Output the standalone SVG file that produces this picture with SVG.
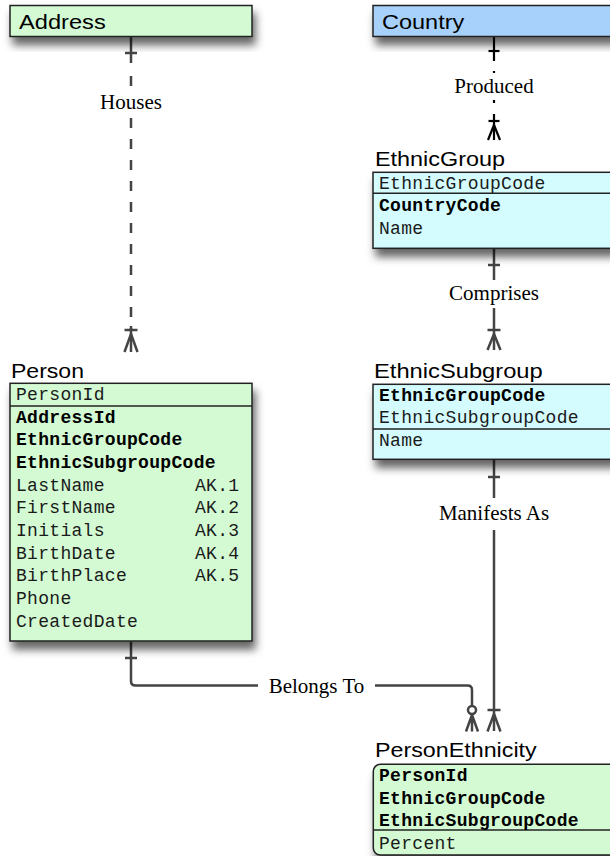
<svg xmlns="http://www.w3.org/2000/svg" width="610" height="856" viewBox="0 0 610 856">
<defs>
<filter id="sh" x="-10%" y="-10%" width="130%" height="160%">
<feDropShadow dx="3" dy="8" stdDeviation="4.5" flood-color="#000" flood-opacity="0.6"/>
</filter>
</defs>
<style>
.box{stroke:#222;stroke-width:1.5}
.g{fill:#d4fad4}
.c{fill:#d4fcff}
.b{fill:#a7d1fa}
.div{stroke:#222;stroke-width:1.5}
.title{font-family:"Liberation Sans",Arial,sans-serif;font-size:20px;fill:#000}
.row{font-family:"Liberation Mono","Courier New",monospace;font-size:18px;letter-spacing:0.3px;fill:#1a1a1a}
.bold{font-weight:bold;fill:#000}
.lbl{font-family:"Liberation Serif","Times New Roman",serif;font-size:21px;fill:#000;text-anchor:middle}
.ln{stroke:#444;stroke-width:2.5;fill:none}
.lk{stroke:#000;stroke-width:2.2;fill:none}
</style>

<g id="connectors">
  <g id="c-houses">
    <line class="ln" x1="131" y1="37" x2="131" y2="63"/>
    <line class="ln" x1="125" y1="53" x2="137" y2="53"/>
    <line class="ln" x1="131" y1="76" x2="131" y2="86"/>
    <line class="ln" x1="131" y1="118" x2="131" y2="330" stroke-dasharray="10 11"/>
    <line class="ln" x1="131" y1="326" x2="131" y2="352"/>
    <line class="ln" x1="124.5" y1="330" x2="137.5" y2="330"/>
    <path class="ln" d="M131 334 L124.5 352 M131 334 L137.5 352"/>
    <text class="lbl" x="131" y="109">Houses</text>
  </g>
  <g id="c-produced">
    <line class="lk" x1="494" y1="37" x2="494" y2="61"/>
    <line class="lk" x1="488.5" y1="51" x2="499.5" y2="51"/>
    <line class="lk" x1="494" y1="71" x2="494" y2="73"/>
    <line class="lk" x1="494" y1="100" x2="494" y2="103"/>
    <line class="lk" x1="494" y1="114" x2="494" y2="140"/>
    <line class="lk" x1="488.5" y1="121" x2="499.5" y2="121"/>
    <path class="lk" d="M494 125 L488 140 M494 125 L500 140"/>
    <text class="lbl" x="494" y="92.7">Produced</text>
  </g>
  <g id="c-comprises">
    <line class="ln" x1="494" y1="249" x2="494" y2="280"/>
    <line class="ln" x1="488" y1="265" x2="500" y2="265"/>
    <line class="ln" x1="494" y1="308" x2="494" y2="350"/>
    <line class="ln" x1="487.5" y1="330" x2="500.5" y2="330"/>
    <path class="ln" d="M494 334 L487.5 350 M494 334 L500.5 350"/>
    <text class="lbl" x="494" y="300">Comprises</text>
  </g>
  <g id="c-manifests">
    <line class="ln" x1="494" y1="460" x2="494" y2="498"/>
    <line class="ln" x1="488" y1="477" x2="500" y2="477"/>
    <line class="ln" x1="494" y1="530" x2="494" y2="731"/>
    <line class="ln" x1="487.5" y1="710" x2="500.5" y2="710"/>
    <path class="ln" d="M494 714 L487.5 731.5 M494 714 L500.5 731.5"/>
    <text class="lbl" x="494" y="520">Manifests As</text>
  </g>
  <g id="c-belongs">
    <path class="ln" d="M131 642 L131 681 Q131 685.5 135.5 685.5 L258 685.5"/>
    <line class="ln" x1="125" y1="658" x2="137" y2="658"/>
    <path class="ln" d="M375 685.5 L467.5 685.5 Q472 685.5 472 690 L472 706"/>
    <circle class="ln" cx="472" cy="710" r="4"/>
    <path class="ln" d="M472 714 L472 731.5 M472 715 L466 731.5 M472 715 L478 731.5"/>
    <text class="lbl" x="316.5" y="693">Belongs To</text>
  </g>
</g>

<g id="Address">
  <rect class="box g" x="10" y="5.5" width="242" height="31" filter="url(#sh)"/>
  <text class="title" x="19" y="29.3" textLength="86.7" lengthAdjust="spacingAndGlyphs">Address</text>
</g>

<g id="Country">
  <rect class="box b" x="373" y="5.5" width="242" height="31" filter="url(#sh)"/>
  <text class="title" x="382" y="29.3" textLength="82.3" lengthAdjust="spacingAndGlyphs">Country</text>
</g>

<g id="EthnicGroup">
  <text class="title" x="375" y="165.7" textLength="130" lengthAdjust="spacingAndGlyphs">EthnicGroup</text>
  <rect class="box c" x="373" y="172.3" width="242" height="76" filter="url(#sh)"/>
  <line class="div" x1="373" y1="193.3" x2="615" y2="193.3"/>
  <text class="row" x="379" y="188.5">EthnicGroupCode</text>
  <text class="row bold" x="379" y="211">CountryCode</text>
  <text class="row" x="379" y="233.5">Name</text>
</g>

<g id="EthnicSubgroup">
  <text class="title" x="374" y="377.7" textLength="168.7" lengthAdjust="spacingAndGlyphs">EthnicSubgroup</text>
  <rect class="box c" x="373" y="384.3" width="242" height="75" filter="url(#sh)"/>
  <line class="div" x1="373" y1="429" x2="615" y2="429"/>
  <text class="row bold" x="379" y="400.7">EthnicGroupCode</text>
  <text class="row" x="379" y="423.3">EthnicSubgroupCode</text>
  <text class="row" x="379" y="446">Name</text>
</g>

<g id="Person">
  <text class="title" x="11" y="377.7" textLength="73" lengthAdjust="spacingAndGlyphs">Person</text>
  <rect class="box g" x="10" y="383.3" width="242" height="257.7" filter="url(#sh)"/>
  <line class="div" x1="10" y1="406" x2="252" y2="406"/>
  <text class="row" x="16" y="400">PersonId</text>
  <text class="row bold" x="16" y="422.5">AddressId</text>
  <text class="row bold" x="16" y="445.2">EthnicGroupCode</text>
  <text class="row bold" x="16" y="467.9">EthnicSubgroupCode</text>
  <text class="row" x="16" y="490.6">LastName</text>
  <text class="row" x="16" y="513.3">FirstName</text>
  <text class="row" x="16" y="536">Initials</text>
  <text class="row" x="16" y="558.7">BirthDate</text>
  <text class="row" x="16" y="581.4">BirthPlace</text>
  <text class="row" x="16" y="604.1">Phone</text>
  <text class="row" x="16" y="626.8">CreatedDate</text>
  <text class="row" x="195" y="490.6">AK.1</text>
  <text class="row" x="195" y="513.3">AK.2</text>
  <text class="row" x="195" y="536">AK.3</text>
  <text class="row" x="195" y="558.7">AK.4</text>
  <text class="row" x="195" y="581.4">AK.5</text>
</g>

<g id="PersonEthnicity">
  <text class="title" x="375" y="757.3" textLength="161.7" lengthAdjust="spacingAndGlyphs">PersonEthnicity</text>
  <rect class="box g" x="373.3" y="764.3" width="250" height="90.7" rx="7" ry="7" filter="url(#sh)"/>
  <line class="div" x1="373.3" y1="830" x2="615" y2="830"/>
  <text class="row bold" x="379" y="780.7">PersonId</text>
  <text class="row bold" x="379" y="803.5">EthnicGroupCode</text>
  <text class="row bold" x="379" y="826">EthnicSubgroupCode</text>
  <text class="row" x="379" y="848.5">Percent</text>
</g>
</svg>
